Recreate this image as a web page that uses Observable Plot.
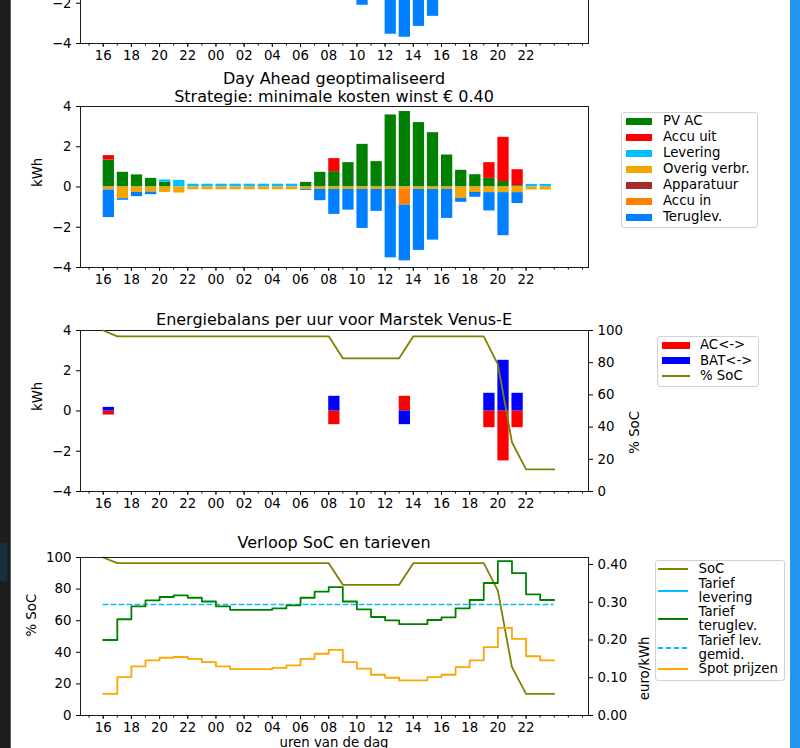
<!DOCTYPE html>
<html lang="nl">
<head>
<meta charset="utf-8">
<title>Day Ahead geoptimaliseerd</title>
<script src="https://cdn.jsdelivr.net/npm/d3@7"></script>
<script src="https://cdn.jsdelivr.net/npm/@observablehq/plot@0.6"></script>
<style>
  html, body { margin: 0; padding: 0; background: #fff; overflow: hidden; }
  #page { position: relative; width: 800px; height: 748px; overflow: hidden; background: #fff;
          font-family: "DejaVu Sans", sans-serif; color: #000; }
  .titel { position: absolute; left: 80px; width: 508px; text-align: center; font-size: 16px;
           line-height: 17.5px; white-space: nowrap; }
  .aslabel { position: absolute; left: 80px; width: 508px; text-align: center; font-size: 13.3px;
             line-height: 16px; white-space: nowrap; }
  .legenda { position: absolute; background: #fff; border: 1px solid #d2d2d2; border-radius: 3px;
             box-sizing: border-box; font-size: 13.3px; line-height: 14px; }
  .rij { display: flex; align-items: center; white-space: nowrap; }
  .symbool { flex: none; }
</style>
</head>
<body>
<div id="page"></div>
<script>
// Uren van de planning: 16:00 vandaag t/m 23:00 morgen
const uren = ["16","17","18","19","20","21","22","23","00","01","02","03","04","05","06","07",
              "08","09","10","11","12","13","14","15","16","17","18","19","20","21","22","23"];
const tickLabels = ["16","18","20","22","00","02","04","06","08","10","12","14","16","18","20","22"];

// Day Ahead geoptimaliseerd, energie per uur (kWh)
const pvAC        = [1.34, 0.73, 0.60, 0.43, 0.23, 0, 0, 0, 0, 0, 0, 0, 0, 0, 0.23, 0.73,
                     0.76, 1.21, 2.12, 1.26, 3.58, 3.75, 3.20, 2.70, 1.59, 0.83, 0.61, 0.43, 0.27, 0.06, 0, 0];
const accuUit     = [0.22, 0, 0, 0, 0, 0, 0, 0, 0, 0, 0, 0, 0, 0, 0, 0,
                     0.65, 0, 0, 0, 0, 0, 0, 0, 0, 0, 0, 0.78, 2.20, 0.80, 0, 0];
const levering    = [0, 0, 0, 0, 0.12, 0.33, 0.14, 0.14, 0.14, 0.14, 0.14, 0.14, 0.14, 0.14, 0, 0,
                     0, 0, 0, 0, 0, 0, 0, 0, 0, 0, 0, 0, 0, 0, 0.13, 0.13];
const overigVerbr = [-0.15, -0.58, -0.27, -0.25, -0.27, -0.30, -0.14, -0.14, -0.14, -0.14, -0.14, -0.14, -0.14, -0.14, -0.12, -0.12,
                     -0.12, -0.12, -0.12, -0.12, -0.12, -0.12, -0.12, -0.12, -0.12, -0.56, -0.27, -0.28, -0.28, -0.28, -0.15, -0.15];
const apparatuur  = [0, 0, 0, 0, 0, 0, 0, 0, 0, 0, 0, 0, 0, 0, 0, 0,
                     0, 0, 0, 0, 0, 0, 0, 0, 0, 0, 0, 0, 0, 0, 0, 0];
const accuIn      = [0, 0, 0, 0, 0, 0, 0, 0, 0, 0, 0, 0, 0, 0, 0, 0,
                     0, 0, 0, 0, 0, -0.78, 0, 0, 0, 0, 0, 0, 0, 0, 0, 0];
const teruglev    = [-1.37, -0.08, -0.21, -0.13, 0, 0, 0, 0, 0, 0, 0, 0, 0, 0, -0.05, -0.56,
                     -1.24, -1.03, -1.94, -1.09, -3.40, -2.77, -3.03, -2.52, -1.44, -0.20, -0.24, -0.91, -2.14, -0.54, 0, 0];

// Basisplanning zonder accu (kWh)
const basisLevering = [0, 0, 0, 0, 0.04, 0.30, 0.14, 0.14, 0.14, 0.14, 0.14, 0.14, 0.14, 0.14, 0, 0,
                       0, 0, 0, 0, 0, 0, 0, 0, 0, 0, 0, 0, 0, 0.21, 0.14, 0.14];
const basisTeruglev = [-1.19, -0.15, -0.33, -0.18, 0, 0, 0, 0, 0, 0, 0, 0, 0, 0, -0.11, -0.61,
                       -0.64, -1.09, -1.98, -1.14, -3.42, -3.57, -3.03, -2.53, -1.47, -0.27, -0.34, -0.16, 0, 0, 0, 0];

// Energiebalans Marstek Venus-E (kWh)
const acWissel  = [-0.20, 0, 0, 0, 0, 0, 0, 0, 0, 0, 0, 0, 0, 0, 0, 0,
                   -0.68, 0, 0, 0, 0, 0.73, 0, 0, 0, 0, 0, -0.83, -2.48, -0.83, 0, 0];
const batWissel = [0.18, 0, 0, 0, 0, 0, 0, 0, 0, 0, 0, 0, 0, 0, 0, 0,
                   0.73, 0, 0, 0, 0, -0.68, 0, 0, 0, 0, 0, 0.88, 2.52, 0.88, 0, 0];

// Laadtoestand aan het begin van elk uur, plus het einde van het laatste uur (%)
const socProcent = [100, 96.4, 96.4, 96.4, 96.4, 96.4, 96.4, 96.4, 96.4, 96.4, 96.4, 96.4, 96.4, 96.4, 96.4, 96.4,
                    96.4, 82.7, 82.7, 82.7, 82.7, 82.7, 96.4, 96.4, 96.4, 96.4, 96.4, 96.4, 79.0, 30.6, 13.7, 13.7, 13.7];

// Tarieven (euro/kWh)
const tariefTeruglev = [0.200, 0.255, 0.289, 0.305, 0.314, 0.318, 0.312, 0.302, 0.289, 0.280, 0.280, 0.280, 0.284, 0.292, 0.312, 0.328,
                        0.340, 0.302, 0.281, 0.261, 0.252, 0.242, 0.242, 0.253, 0.260, 0.284, 0.306, 0.351, 0.409, 0.377, 0.321, 0.306];
const spotPrijzen    = [0.0575, 0.1017, 0.130, 0.146, 0.153, 0.155, 0.150, 0.1415, 0.130, 0.123, 0.123, 0.123, 0.126, 0.133, 0.150, 0.1636,
                        0.174, 0.1415, 0.124, 0.108, 0.100, 0.093, 0.093, 0.1017, 0.108, 0.128, 0.146, 0.181, 0.232, 0.203, 0.157, 0.146];
const tariefLevGemid = 0.294;

// ---------------------------------------------------------------------------
const page = document.getElementById("page");
const W = 800, ML = 80, MR = 212, MT = 10, MB = 30;
const xDomain = [-1.61, 34.43];
const barWidth = 0.8;
const minorTicks = d3.range(-1, 35);
const majorTicks = tickLabels.map((_, k) => 2 * k);
const ink = "#1a1a1a";
const fs = 13.3;
const style = {background: "transparent", overflow: "visible", fontFamily: "DejaVu Sans, sans-serif",
               fontSize: fs + "px", color: "#000"};

const kleuren = {
  "PV AC": "#008000", "Accu uit": "#ff0000", "Levering": "#00bfff", "Overig verbr.": "#f3a600",
  "Apparatuur": "#a52a2a", "Accu in": "#ff7f00", "Teruglev.": "#0080ff",
  "AC<->": "#ff0000", "BAT<->": "#0000ff", "SoC": "#808000"
};

function place(svg, top) {
  svg.style.position = "absolute";
  svg.style.left = "0px";
  svg.style.top = top + "px";
  page.appendChild(svg);
}

// lange tabel voor gestapelde staven: reeks voor reeks, uur voor uur
function stapel(reeksen) {
  return reeksen.flatMap(r => r.values.map((v, i) => ({i, v, reeks: r.naam})));
}

function xAssen() {
  return [
    Plot.axisX(minorTicks, {tickSize: 2.5, tickFormat: () => ""}),
    Plot.axisX(majorTicks, {tickSize: 4, tickPadding: 3, tickFormat: i => tickLabels[i / 2]})
  ];
}

function staafPlot(reeksen, plotHoogte, extra) {
  return Plot.plot({
    width: W, height: plotHoogte + MT + MB,
    marginLeft: ML, marginRight: MR, marginTop: MT, marginBottom: MB,
    style,
    x: {domain: xDomain, label: null},
    y: {domain: [-4, 4], label: null},
    color: {domain: reeksen.map(r => r.naam), range: reeksen.map(r => kleuren[r.naam])},
    marks: [
      Plot.rectY(stapel(reeksen), {x1: "i", x2: d => d.i + barWidth, y: "v", fill: "reeks", order: null}),
      ...(extra || []),
      Plot.frame({stroke: ink}),
      Plot.axisY([-4, -2, 0, 2, 4], {tickSize: 4, tickPadding: 5}),
      ...xAssen()
    ]
  });
}

// ---- Bovenste paneel (basisplanning), alleen de onderkant valt binnen beeld
place(staafPlot([
  {naam: "PV AC", values: pvAC},
  {naam: "Levering", values: basisLevering},
  {naam: "Overig verbr.", values: overigVerbr},
  {naam: "Teruglev.", values: basisTeruglev}
], 161), 43 - 161 - MT);

// ---- Day Ahead geoptimaliseerd
const reeksen2 = [
  {naam: "PV AC", values: pvAC},
  {naam: "Accu uit", values: accuUit},
  {naam: "Levering", values: levering},
  {naam: "Overig verbr.", values: overigVerbr},
  {naam: "Apparatuur", values: apparatuur},
  {naam: "Accu in", values: accuIn},
  {naam: "Teruglev.", values: teruglev}
];
place(staafPlot(reeksen2, 161, [
  Plot.text(["kWh"], {text: d => d, frameAnchor: "left", dx: -43, rotate: -90, fontSize: fs})
]), 106 - MT);

// ---- Energiebalans per uur
const socPunten = socProcent.map((soc, i) => ({i, soc}));
place(staafPlot([
  {naam: "AC<->", values: acWissel},
  {naam: "BAT<->", values: batWissel}
], 161, [
  Plot.text(["kWh"], {text: d => d, frameAnchor: "left", dx: -43, rotate: -90, fontSize: fs})
]), 330 - MT);

place(Plot.plot({
  width: W, height: 161 + MT + MB, marginLeft: ML, marginRight: MR, marginTop: MT, marginBottom: MB,
  style,
  x: {domain: xDomain, label: null, axis: null},
  y: {domain: [0, 100], label: null},
  marks: [
    Plot.line(socPunten, {x: "i", y: "soc", stroke: kleuren.SoC, strokeWidth: 1.8}),
    Plot.axisY(d3.range(0, 101, 20), {anchor: "right", tickSize: 4, tickPadding: 5}),
    Plot.text(["% SoC"], {text: d => d, frameAnchor: "right", dx: 46, rotate: -90, fontSize: fs})
  ]
}), 330 - MT);

// ---- Verloop SoC en tarieven
const trap = values => values.map((v, i) => ({i, v})).concat([{i: values.length, v: values[values.length - 1]}]);

place(Plot.plot({
  width: W, height: 158 + MT + MB, marginLeft: ML, marginRight: MR, marginTop: MT, marginBottom: MB,
  style,
  x: {domain: xDomain, label: null},
  y: {domain: [0, 100], label: null},
  marks: [
    Plot.line(socPunten, {x: "i", y: "soc", stroke: kleuren.SoC, strokeWidth: 1.8}),
    Plot.frame({stroke: ink}),
    Plot.axisY(d3.range(0, 101, 20), {tickSize: 4, tickPadding: 5}),
    ...xAssen(),
    Plot.text(["% SoC"], {text: d => d, frameAnchor: "left", dx: -49, rotate: -90, fontSize: fs})
  ]
}), 557 - MT);

place(Plot.plot({
  width: W, height: 158 + MT + MB, marginLeft: ML, marginRight: MR, marginTop: MT, marginBottom: MB,
  style,
  x: {domain: xDomain, label: null, axis: null},
  y: {domain: [0, 0.4186], label: null},
  marks: [
    Plot.ruleY([tariefLevGemid], {x1: 0, x2: uren.length, stroke: "#00bfff", strokeWidth: 1.5, strokeDasharray: "5.5,2.5"}),
    Plot.line(trap(tariefTeruglev), {x: "i", y: "v", curve: "step-after", stroke: "#008000", strokeWidth: 1.8}),
    Plot.line(trap(spotPrijzen), {x: "i", y: "v", curve: "step-after", stroke: "#ffa500", strokeWidth: 1.8}),
    Plot.axisY([0, 0.1, 0.2, 0.3, 0.4], {anchor: "right", tickSize: 4, tickPadding: 5, tickFormat: d3.format(".2f")}),
    Plot.text(["euro/kWh"], {text: d => d, frameAnchor: "right", dx: 56, rotate: -90, fontSize: fs})
  ]
}), 557 - MT);

// ---- Titels en aslabels
function tekst(cls, html, top) {
  const el = document.createElement("div");
  el.className = cls;
  el.innerHTML = html;
  el.style.top = top + "px";
  page.appendChild(el);
}
tekst("titel", "Day Ahead geoptimaliseerd<br>Strategie: minimale kosten winst € 0.40", 70);
tekst("titel", "Energiebalans per uur voor Marstek Venus-E", 310.5);
tekst("titel", "Verloop SoC en tarieven", 533.5);
tekst("aslabel", "uren van de dag", 734.5);

// ---- Legenda's
function legenda(box, items) {
  const el = document.createElement("div");
  el.className = "legenda";
  Object.assign(el.style, {left: box.x + "px", top: box.y + "px", width: box.w + "px", height: box.h + "px",
                           paddingTop: box.pt + "px", paddingLeft: box.pl + "px"});
  for (const it of items) {
    const rij = document.createElement("div");
    rij.className = "rij";
    rij.style.height = it.h + "px";
    rij.style.marginBottom = (it.gap || 0) + "px";
    const sym = document.createElement("div");
    sym.className = "symbool";
    sym.style.width = box.sw + "px";
    if (it.soort === "vlak") {
      sym.style.height = "7px";
      sym.style.background = it.kleur;
    } else {
      sym.style.height = "2px";
      sym.style.background = it.streep
        ? `repeating-linear-gradient(to right, ${it.kleur} 0 5.5px, transparent 5.5px 8px)`
        : it.kleur;
    }
    const lab = document.createElement("span");
    lab.style.marginLeft = box.gap + "px";
    lab.innerHTML = it.tekst;
    rij.append(sym, lab);
    el.appendChild(rij);
  }
  page.appendChild(el);
}

legenda({x: 621, y: 111.5, w: 137, h: 116, pt: 0.5, pl: 4, sw: 26, gap: 11},
  reeksen2.map(r => ({soort: "vlak", kleur: kleuren[r.naam], tekst: r.naam, h: 16})));

legenda({x: 657, y: 336, w: 102, h: 51, pt: 0.5, pl: 4, sw: 28, gap: 10},
  [{soort: "vlak", kleur: kleuren["AC<->"], tekst: "AC&lt;-&gt;", h: 15.5},
   {soort: "vlak", kleur: kleuren["BAT<->"], tekst: "BAT&lt;-&gt;", h: 15.5},
   {soort: "lijn", kleur: kleuren.SoC, tekst: "% SoC", h: 15.5}]);

legenda({x: 655, y: 560, w: 130, h: 121, pt: 1.3, pl: 2, sw: 30, gap: 10.5},
  [{soort: "lijn", kleur: kleuren.SoC, tekst: "SoC", h: 14, gap: 0.6},
   {soort: "lijn", kleur: "#00bfff", tekst: "Tarief<br>levering", h: 28, gap: 0.4},
   {soort: "lijn", kleur: "#008000", tekst: "Tarief<br>teruglev.", h: 28, gap: 0.4},
   {soort: "lijn", kleur: "#00bfff", streep: true, tekst: "Tarief lev.<br>gemid.", h: 28, gap: 0.6},
   {soort: "lijn", kleur: "#ffa500", tekst: "Spot prijzen", h: 14}]);

// ---- Vensterranden
function blok(css) {
  const el = document.createElement("div");
  Object.assign(el.style, {position: "absolute"}, css);
  page.appendChild(el);
}
blok({left: "0px", top: "0px", width: "9.5px", height: "748px", background: "#1e1e1e"});
blok({left: "9.5px", top: "0px", width: "1px", height: "748px", background: "#5a5a5a"});
blok({left: "0px", top: "543px", width: "7px", height: "38px", background: "#17313b", borderRadius: "0 3px 3px 0"});
blok({left: "790px", top: "0px", width: "10px", height: "748px", background: "#2196f3"});
</script>
</body>
</html>
